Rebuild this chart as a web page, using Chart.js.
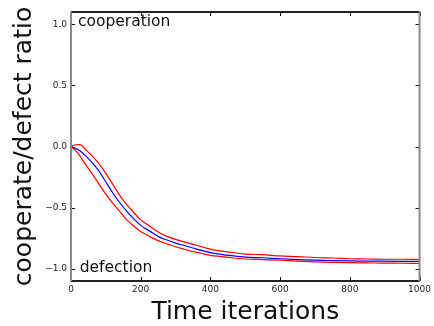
<!DOCTYPE html>
<html>
<head>
<meta charset="utf-8">
<script src="https://cdn.jsdelivr.net/npm/chart.js@4.4.1/dist/chart.umd.min.js"></script>
<style>
  html, body { margin: 0; padding: 0; background: #fff; }
  #wrap { width: 434px; height: 326px; }
</style>
</head>
<body>
<div id="wrap"><canvas id="ratioChart" width="434" height="326"></canvas></div>
<script>
// Data
const timeSteps = [0, 10, 20, 30, 40, 60, 80, 100, 120, 140, 160, 180, 200, 225, 250, 275, 300, 325, 350, 375, 400, 430, 460, 500, 550, 600, 650, 700, 750, 800, 850, 900, 950, 1000];
const meanRatio = [0, -0.012, -0.025, -0.045, -0.07, -0.13, -0.2, -0.29, -0.38, -0.46, -0.53, -0.59, -0.645, -0.69, -0.735, -0.765, -0.79, -0.81, -0.83, -0.85, -0.868, -0.882, -0.893, -0.905, -0.91, -0.918, -0.925, -0.93, -0.934, -0.936, -0.937, -0.938, -0.939, -0.94];
const upperRatio = [0, 0.012, 0.016, 0.01, -0.02, -0.075, -0.14, -0.22, -0.31, -0.4, -0.475, -0.54, -0.6, -0.65, -0.7, -0.735, -0.76, -0.78, -0.8, -0.82, -0.84, -0.855, -0.865, -0.88, -0.885, -0.895, -0.9, -0.908, -0.912, -0.918, -0.92, -0.922, -0.922, -0.925];
const lowerRatio = [0, -0.025, -0.055, -0.095, -0.14, -0.22, -0.305, -0.39, -0.465, -0.53, -0.6, -0.65, -0.695, -0.735, -0.77, -0.795, -0.82, -0.84, -0.86, -0.875, -0.89, -0.9, -0.91, -0.92, -0.925, -0.93, -0.937, -0.943, -0.947, -0.95, -0.952, -0.954, -0.955, -0.957];
const xTicks = [0, 200, 400, 600, 800, 1000];
const yTicks = [-1.0, -0.5, 0.0, 0.5, 1.0];

const FONT = 'DejaVu Sans';

function toPoints(ys) {
  return timeSteps.map((t, i) => ({ x: t, y: ys[i] }));
}

// frame, inward ticks and the two labels inside the plot
const framePlugin = {
  id: 'frame',
  afterDatasetsDraw(chart) {
    const { ctx, chartArea: a, scales: { x, y } } = chart;
    ctx.save();
    ctx.lineWidth = 1;
    ctx.strokeStyle = '#111';
    xTicks.forEach(v => {
      const px = Math.round(x.getPixelForValue(v)) + 0.5;
      ctx.beginPath();
      ctx.moveTo(px, a.bottom); ctx.lineTo(px, a.bottom - 4);
      ctx.moveTo(px, a.top); ctx.lineTo(px, a.top + 4);
      ctx.stroke();
    });
    yTicks.forEach(v => {
      const py = Math.round(y.getPixelForValue(v)) + 0.5;
      ctx.beginPath();
      ctx.moveTo(a.left, py); ctx.lineTo(a.left + 4, py);
      ctx.moveTo(a.right, py); ctx.lineTo(a.right - 4, py);
      ctx.stroke();
    });
    ctx.lineWidth = 2;
    ctx.strokeStyle = '#222';
    ctx.beginPath();
    ctx.moveTo(a.left, a.top); ctx.lineTo(a.right, a.top);
    ctx.moveTo(a.left, a.bottom); ctx.lineTo(a.right, a.bottom);
    ctx.stroke();
    ctx.strokeStyle = '#888';
    ctx.beginPath();
    ctx.moveTo(a.left, a.top); ctx.lineTo(a.left, a.bottom);
    ctx.moveTo(a.right, a.top); ctx.lineTo(a.right, a.bottom);
    ctx.stroke();

    ctx.fillStyle = '#111';
    ctx.font = '15.5px "' + FONT + '"';
    ctx.textAlign = 'left';
    ctx.textBaseline = 'alphabetic';
    ctx.fillText('cooperation', x.getPixelForValue(20), y.getPixelForValue(0.985));
    ctx.fillText('defection', x.getPixelForValue(25), y.getPixelForValue(-1.03));
    ctx.restore();
  }
};

const chart = new Chart(document.getElementById('ratioChart').getContext('2d'), {
  type: 'line',
  data: {
    datasets: [
      { data: toPoints(upperRatio), borderColor: '#ff0000', borderWidth: 1.2 },
      { data: toPoints(lowerRatio), borderColor: '#ff0000', borderWidth: 1.2 },
      { data: toPoints(meanRatio), borderColor: '#0000ff', borderWidth: 1.2 }
    ]
  },
  options: {
    responsive: false,
    animation: false,
    devicePixelRatio: 1,
    layout: { padding: { top: 12, right: 13, left: 0, bottom: 0 } },
    elements: {
      point: { radius: 0 },
      line: { cubicInterpolationMode: 'monotone', fill: false }
    },
    plugins: {
      legend: { display: false },
      tooltip: { enabled: false }
    },
    scales: {
      x: {
        type: 'linear',
        min: 0,
        max: 1000,
        afterBuildTicks: s => { s.ticks = xTicks.map(v => ({ value: v })); },
        afterFit: s => { s.height = 45; },
        grid: { display: false, drawTicks: false },
        border: { display: false },
        ticks: {
          padding: 3,
          maxRotation: 0,
          color: '#222',
          font: { family: FONT, size: 9 },
          callback: v => String(v)
        },
        title: {
          display: true,
          text: 'Time iterations',
          color: '#111',
          font: { family: FONT, size: 25, lineHeight: 1 },
          padding: { top: 0, bottom: 1.5 }
        }
      },
      y: {
        min: -1.1,
        max: 1.1,
        afterBuildTicks: s => { s.ticks = yTicks.map(v => ({ value: v })); },
        afterFit: s => { s.width = 71; },
        grid: { display: false, drawTicks: false },
        border: { display: false },
        ticks: {
          padding: 4,
          color: '#222',
          font: { family: FONT, size: 9 },
          callback: v => v.toFixed(1).replace('-', '\u2212')
        },
        title: {
          display: true,
          text: 'cooperate/defect ratio',
          color: '#111',
          font: { family: FONT, size: 25, lineHeight: 1 },
          padding: { top: 11.5, bottom: 0 }
        }
      }
    }
  },
  plugins: [framePlugin]
});
</script>
</body>
</html>
